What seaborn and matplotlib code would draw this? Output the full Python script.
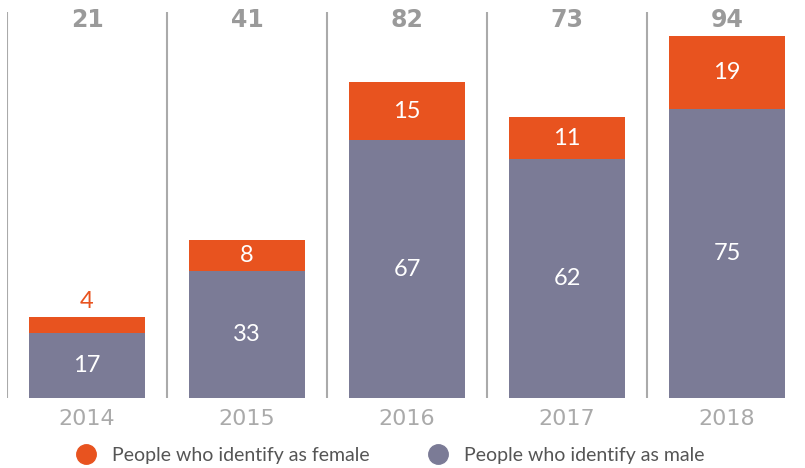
"""
Stacked bars: people identifying as female / male per year.
"""

import numpy as np
import pandas as pd
import matplotlib
matplotlib.use("Agg")
import matplotlib.pyplot as plt
from matplotlib.lines import Line2D
import seaborn as sns

YEARS = ["2014", "2015", "2016", "2017", "2018"]
FEMALE = [4, 8, 15, 11, 19]
MALE = [17, 33, 67, 62, 75]
TOTALS = [21, 41, 82, 73, 94]

ORANGE = "#E8531F"
SLATE = "#7B7B96"
GRID = "#AAAAAA"


def main():
    sns.set_style("white")
    plt.rcParams["font.family"] = ["Lato", "DejaVu Sans"]

    df = pd.DataFrame({"year": YEARS, "female": FEMALE, "male": MALE, "total": TOTALS})

    fig = plt.figure(figsize=(8.05, 4.68), dpi=100)
    ax = fig.add_axes([7 / 805, 70 / 468, 800 / 805, 386 / 468])

    # total bar in orange, male bar over it -> stacked look
    sns.barplot(data=df, x="year", y="total", color=ORANGE, saturation=1,
                width=0.725, ax=ax, errorbar=None, linewidth=0)
    sns.barplot(data=df, x="year", y="male", color=SLATE, saturation=1,
                width=0.725, ax=ax, errorbar=None, linewidth=0)

    ax.set_xlim(-0.5, 4.5)
    ax.set_ylim(0, 386 / 3.85)
    for k in range(len(YEARS)):
        ax.axvline(k - 0.5, color=GRID, linewidth=1.5, zorder=0)

    for i, row in df.iterrows():
        ax.text(i, 98.2, str(row["total"]), ha="center", va="center",
                fontsize=17, fontweight="bold", color="#9A9A9A",
                family=["DejaVu Sans"])
        ax.text(i, row["male"] / 2, str(row["male"]), ha="center", va="center",
                fontsize=17, color="white")
        if row["female"] >= 6:
            ax.text(i, row["male"] + row["female"] / 2, str(row["female"]),
                    ha="center", va="center", fontsize=17, color="white")
        else:
            ax.text(i, row["total"] + 4, str(row["female"]), ha="center",
                    va="center", fontsize=17, color=ORANGE)

    ax.set_xlabel("")
    ax.set_ylabel("")
    ax.set_yticks([])
    ax.tick_params(axis="x", length=0, pad=8)
    for lab in ax.get_xticklabels():
        lab.set_family(["DejaVu Sans"])
        lab.set_fontsize(16)
        lab.set_color("#AAAAAA")
    sns.despine(ax=ax, left=True, bottom=True)

    handles = [
        Line2D([], [], marker="o", linestyle="", markersize=14, color=ORANGE),
        Line2D([], [], marker="o", linestyle="", markersize=14, color=SLATE),
    ]
    fig.legend(handles, ["People who identify as female", "People who identify as male"],
               loc="center", bbox_to_anchor=(0.479, 13 / 468), ncol=2, frameon=False,
               fontsize=14, labelcolor="#555555", handletextpad=0.3,
               columnspacing=2.55, borderaxespad=0)

    fig.savefig("out.png", dpi=100)
    plt.close(fig)


if __name__ == "__main__":
    main()
